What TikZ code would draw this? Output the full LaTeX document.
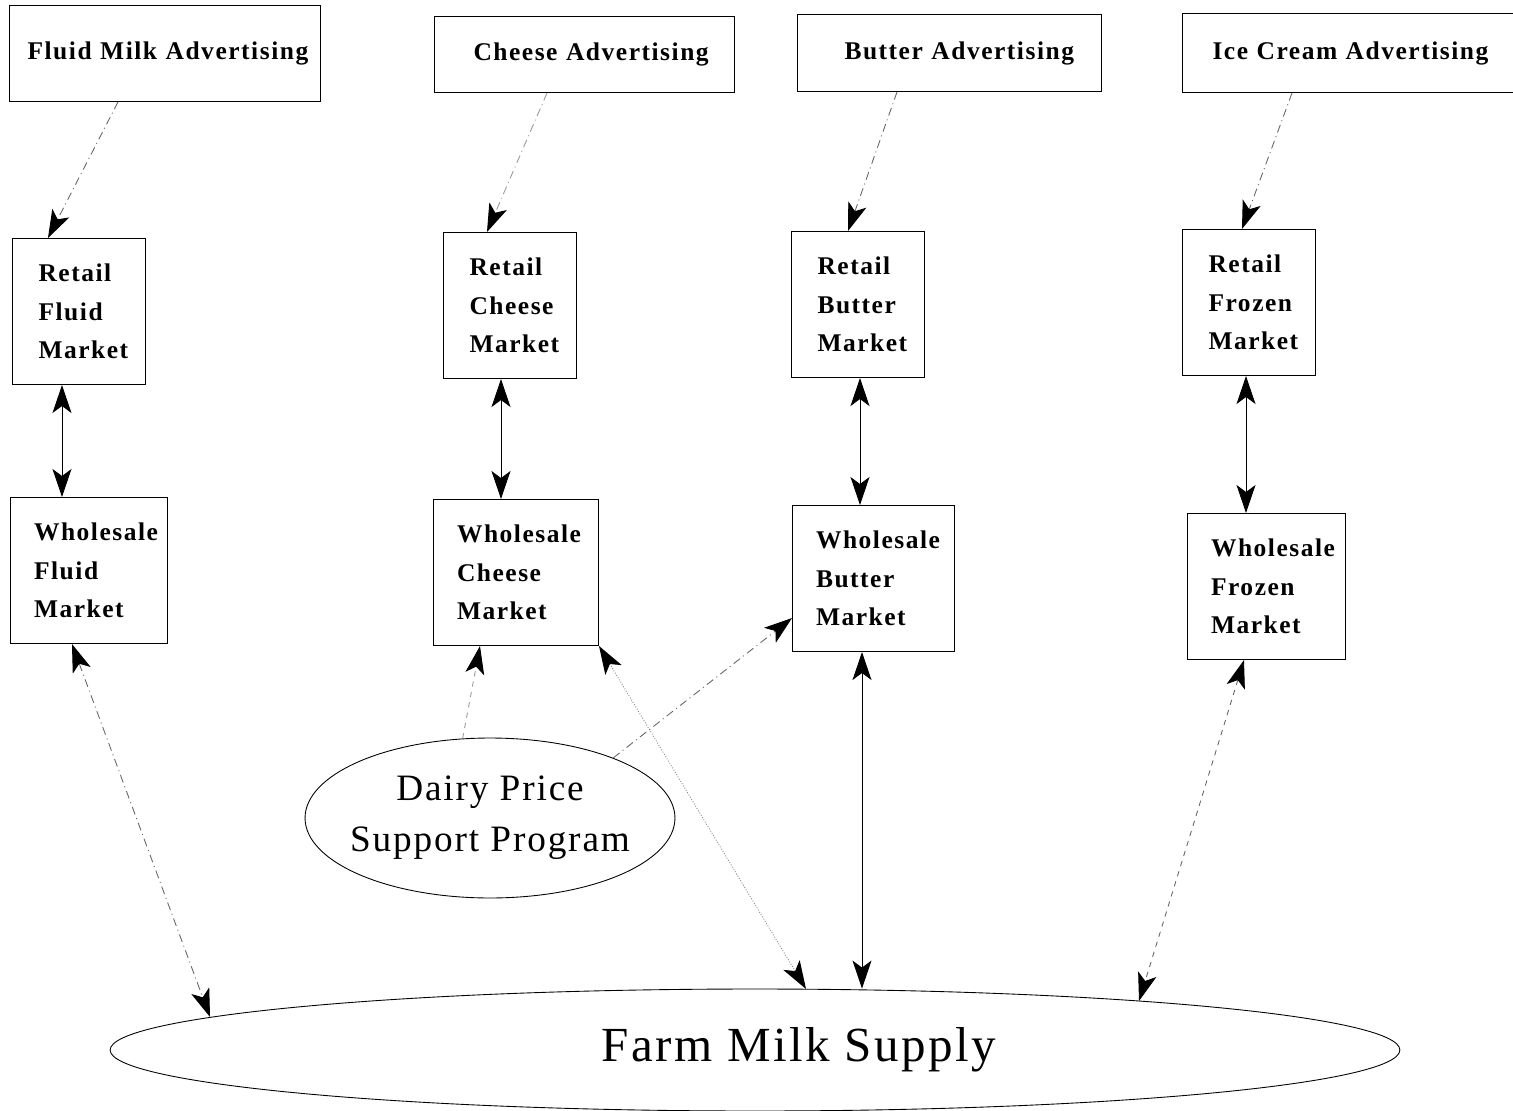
\documentclass[tikz,border=0pt]{standalone}
\usepackage{fontspec}
\setmainfont{Liberation Serif}
\newfontfamily\boxfont[LetterSpace=6]{Liberation Serif}
\newfontfamily\ovalfont[LetterSpace=5]{Liberation Serif}
\usepackage{tikz}
\usetikzlibrary{arrows.meta,shapes.geometric}
\tikzset{>={Stealth[length=0.56cm,width=0.38cm,inset=0.14cm,color=black]}}
\tikzset{
  adbox/.style={draw, anchor=north west, align=left, line width=0.6pt,
    font=\boxfont\bfseries\fontsize{14.5}{22}\selectfont},
  retail/.style={adbox, inner xsep=0.52cm, text width=1.62cm, minimum height=2.92cm},
  whole/.style={adbox, inner xsep=0.47cm, minimum height=2.92cm},
  oval/.style={draw, ellipse, inner sep=0pt, line width=0.5pt, align=center},
  both/.style={<->, line width=0.5pt},
  adv/.style={->, line width=0.5pt, black!60,
    dash pattern=on 0.16cm off 0.08cm on 0.02cm off 0.08cm},
}

\begin{document}
\begin{tikzpicture}[x=0.02cm,y=-0.02cm]
  \useasboundingbox (0,0) rectangle (1513,1111);

  % Advertising
  \node[adbox, inner xsep=0.36cm, text width=5.5cm, minimum height=1.92cm] (fma) at (9,5)     {\mbox{Fluid Milk Advertising}};
  \node[adbox, inner xsep=0.78cm, text width=4.44cm, minimum height=1.52cm] (cad) at (434,16) {\mbox{Cheese Advertising}};
  \node[adbox, inner xsep=0.94cm, text width=4.2cm, minimum height=1.54cm] (bad) at (797,14)  {\mbox{Butter Advertising}};
  \node[adbox, inner xsep=0.6cm, text width=5.52cm, minimum height=1.58cm] (iad) at (1182,13) {\mbox{Ice Cream Advertising}};

  % Retail markets
  \node[retail] (rfl) at (12,238)   {Retail\\Fluid\\Market};
  \node[retail] (rch) at (443,232)  {Retail\\Cheese\\Market};
  \node[retail] (rbu) at (791,231)  {Retail\\Butter\\Market};
  \node[retail] (rfr) at (1182,229) {Retail\\Frozen\\Market};

  % Wholesale markets
  \node[whole, text width=2.2cm]  (wfl) at (10,497)   {Wholesale\\Fluid\\Market};
  \node[whole, text width=2.36cm] (wch) at (433,499)  {Wholesale\\Cheese\\Market};
  \node[whole, text width=2.3cm]  (wbu) at (792,505)  {Wholesale\\Butter\\Market};
  \node[whole, text width=2.22cm] (wfr) at (1187,513) {Wholesale\\Frozen\\Market};

  % Ovals
  \node[oval, minimum width=7.4cm, minimum height=3.2cm, inner xsep=-0.4cm,
    font=\ovalfont\fontsize{21.2}{29}\selectfont] (dps) at (490,818) {Dairy Price\\Support Program};
  \node[oval, minimum width=25.8cm, minimum height=2.44cm,
    font=\ovalfont\fontsize{27.9}{32}\selectfont] (farm) at (755,1050) {\hspace*{1.76cm}Farm Milk Supply};

  % Edges
  \draw[adv] ([xshift=2.18cm]fma.south west) -- ([xshift=0.72cm]rfl.north west);
  \draw[adv, black!40] ([xshift=2.26cm]cad.south west) -- ([xshift=0.88cm]rch.north west);
  \draw[adv] ([xshift=2.0cm]bad.south west) -- ([xshift=1.14cm]rbu.north west);
  \draw[adv] ([xshift=2.2cm]iad.south west) -- ([xshift=1.2cm]rfr.north west);

  \draw[both] ([xshift=1cm]rfl.south west) coordinate (c1) -- (c1 |- wfl.north);
  \draw[both] ([xshift=1.16cm]rch.south west) coordinate (c2) -- (c2 |- wch.north);
  \draw[both] ([xshift=1.38cm]rbu.south west) coordinate (c3) -- (c3 |- wbu.north);
  \draw[both] ([xshift=1.28cm]rfr.south west) coordinate (c4) -- (c4 |- wfr.north);

  \draw[adv, <->] ([xshift=1.24cm]wfl.south west) -- ([shift={(-545,-33)}]farm.center);
  \draw[both, black!50, densely dotted] (wch.south east) -- ([shift={(51,-61)}]farm.center);
  \draw[both] ([xshift=1.4cm]wbu.south west) coordinate (c5) -- (c5 |- farm.north);
  \draw[both, black!60, dashed] ([xshift=1.14cm]wfr.south west) -- ([shift={(384,-49)}]farm.center);

  \draw[->, line width=0.5pt, black!40, dashed] (dps.109) -- ([xshift=0.94cm]wch.south west);
  \draw[adv] (dps.26) -- ([yshift=0.68cm]wbu.south west);

\end{tikzpicture}
\end{document}
